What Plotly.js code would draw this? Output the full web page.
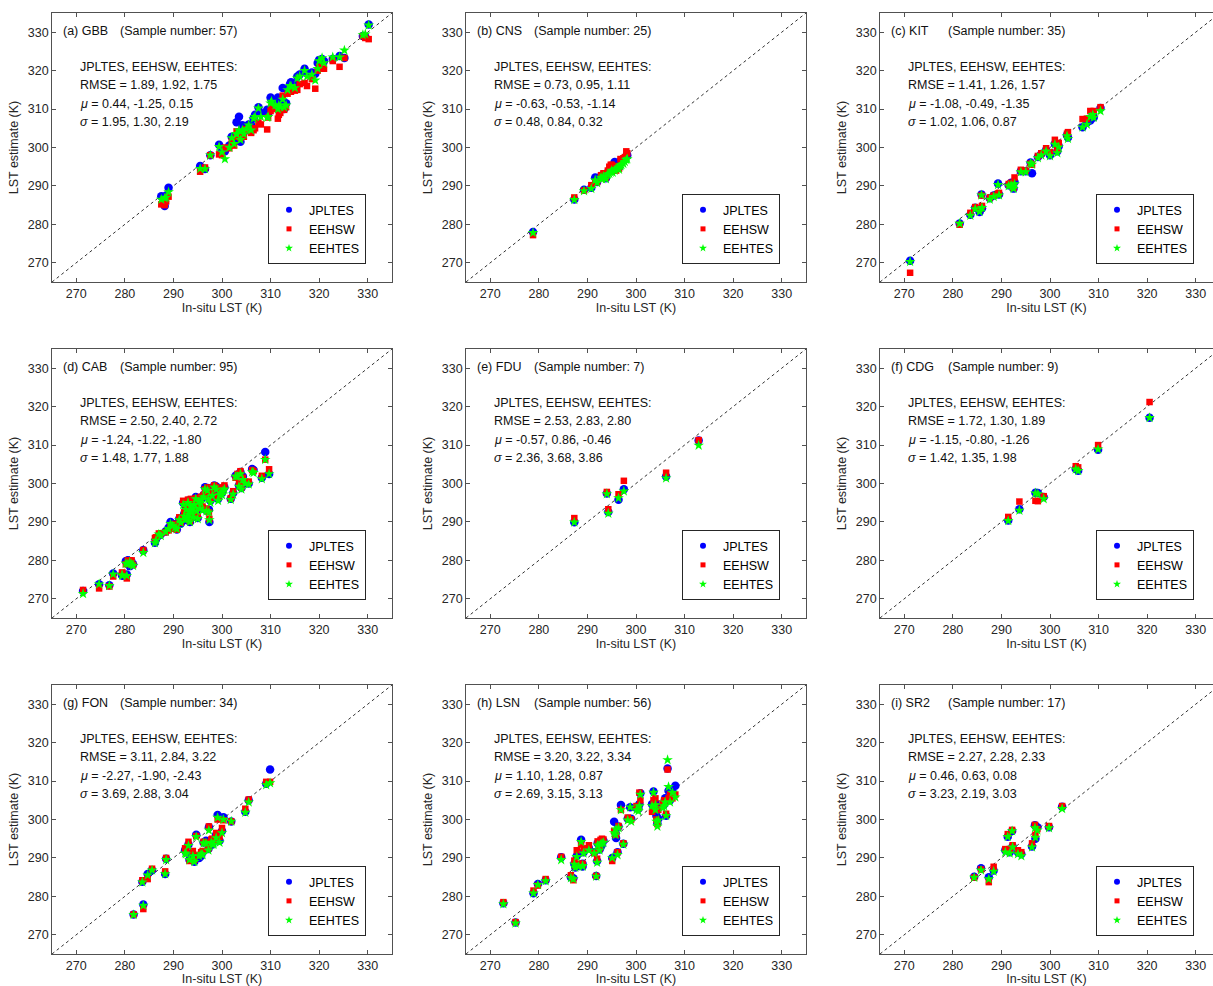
<!DOCTYPE html>
<html>
<head>
<meta charset="utf-8">
<script src="https://cdn.plot.ly/plotly-3.0.1.min.js"></script>
<style>html,body{margin:0;padding:0;background:#fff;}#chart{width:1213px;height:986px;}</style>
</head>
<body>
<div id="chart"></div>
<script>
// ---------------- DATA ----------------
const axisRange = [265, 335];
const tickValues = [270, 280, 290, 300, 310, 320, 330];
const seriesNames = ['JPLTES', 'EEHSW', 'EEHTES'];
const siteLabels = ['(a) GBB', '(b) CNS', '(c) KIT', '(d) CAB', '(e) FDU', '(f) CDG', '(g) FON', '(h) LSN', '(i) SR2'];
const sampleNumbers = [57, 25, 35, 95, 7, 9, 34, 56, 17];
const rmseValues = [[1.89,1.92,1.75],[0.73,0.95,1.11],[1.41,1.26,1.57],[2.50,2.40,2.72],[2.53,2.83,2.80],[1.72,1.30,1.89],[3.11,2.84,3.22],[3.20,3.22,3.34],[2.27,2.28,2.33]];
const muValues = [[0.44,-1.25,0.15],[-0.63,-0.53,-1.14],[-1.08,-0.49,-1.35],[-1.24,-1.22,-1.80],[-0.57,0.86,-0.46],[-1.15,-0.80,-1.26],[-2.27,-1.90,-2.43],[1.10,1.28,0.87],[0.46,0.63,0.08]];
const sigmaValues = [[1.95,1.30,2.19],[0.48,0.84,0.32],[1.02,1.06,0.87],[1.48,1.77,1.88],[2.36,3.68,3.86],[1.42,1.35,1.98],[3.69,2.88,3.04],[2.69,3.15,3.13],[3.23,2.19,3.03]];

// (a) GBB
const gbbInsitu = [287.5,288.2,289.0,288.5,295.5,296.5,297.6,299.4,300.0,300.6,302.0,302.5,303.0,303.5,303.8,304.2,304.5,305.0,306.0,306.5,306.8,307.5,309.3,309.5,310.0,310.2,311.5,311.7,312.0,312.5,312.8,313.2,313.5,314.2,315.0,315.5,316.0,317.0,317.5,319.2,319.7,320.0,320.6,322.8,324.2,325.2,329.5,330.2,311.0,308.0,301.5,303.0,305.5,314.0,318.5,321.0,329.0];
const gbbJPLTES = [287.3,284.8,289.5,287.5,295.2,294.4,298.0,300.7,299.0,299.0,302.8,301.5,306.6,308.0,301.5,305.8,304.0,305.2,305.8,307.6,308.5,310.5,309.8,308.7,313.0,312.5,313.0,312.0,311.0,315.5,310.0,311.5,315.0,317.0,316.5,318.5,319.0,320.5,319.3,319.2,322.0,322.8,323.0,323.0,323.8,323.3,328.8,332.0,311.8,309.0,300.5,303.0,306.0,316.5,319.5,322.5,329.0];
const gbbEEHSW = [285.2,285.0,287.2,286.0,293.7,294.8,298.0,298.2,298.0,300.0,301.5,300.5,304.2,303.0,302.5,303.5,302.8,304.8,303.8,304.5,305.0,306.5,304.7,307.8,309.5,310.5,307.5,308.5,309.0,313.5,309.8,310.5,314.0,314.5,314.8,315.0,316.5,316.8,316.0,315.3,320.0,321.0,320.5,322.5,321.0,323.3,328.5,328.2,310.0,306.0,299.8,302.8,304.5,314.5,317.8,320.5,329.0];
const gbbEEHTES = [286.5,286.8,288.4,287.0,294.5,294.4,298.0,300.2,298.8,297.0,302.5,301.0,303.5,304.5,302.0,304.5,303.5,304.8,304.5,307.5,308.0,310.2,307.8,308.0,311.5,312.0,310.0,311.0,310.5,312.5,310.5,311.0,315.0,316.0,315.5,318.0,318.5,320.0,318.5,317.5,320.5,322.5,323.3,323.5,323.5,325.3,329.5,331.8,311.0,308.0,300.0,303.5,305.8,316.0,319.0,322.0,329.3];

// (b) CNS
const cnsInsitu = [278.8,287.3,289.3,290.8,291.6,292.0,292.8,293.3,293.8,294.2,294.5,294.8,295.2,295.6,295.9,296.3,296.5,296.8,297.0,297.4,297.7,298.0,298.2,293.0,295.0];
const cnsJPLTES = [278.0,286.5,289.0,289.5,292.2,291.0,292.5,293.0,292.0,293.5,294.0,294.5,294.0,296.2,295.0,295.5,294.8,296.5,296.2,296.8,297.0,297.8,298.0,292.5,295.2];
const cnsEEHSW = [277.2,287.0,288.8,290.2,291.0,291.0,292.8,293.3,292.2,294.0,295.0,295.5,294.2,295.2,294.0,295.0,294.5,297.0,296.5,297.2,297.5,299.0,298.5,292.0,295.5];
const cnsEEHTES = [277.8,286.4,288.7,289.3,291.5,290.8,292.2,292.5,291.8,293.0,293.2,293.5,293.5,294.0,294.5,294.8,294.3,295.2,295.5,295.8,296.3,296.8,297.0,291.8,294.0];

// (c) KIT
const kitInsitu = [271.2,281.4,283.6,284.6,285.5,285.9,286.0,287.6,288.4,289.3,289.5,291.5,292.0,292.3,292.7,292.5,294.0,295.0,296.0,296.3,298.2,299.2,300.0,301.0,301.5,301.8,303.7,303.5,306.7,307.6,308.3,308.8,309.0,310.4,297.5];
const kitJPLTES = [270.5,280.2,282.5,284.3,283.2,287.8,284.2,286.8,287.5,290.6,287.8,290.2,290.8,290.3,291.0,289.3,293.8,293.8,296.1,293.3,298.3,299.3,298.0,301.0,299.0,300.3,302.6,303.2,305.3,306.5,307.0,308.5,307.8,310.3,297.5];
const kitEEHSW = [267.4,279.9,283.0,284.5,284.0,287.5,284.8,287.0,287.5,288.0,288.2,290.5,290.8,290.0,292.2,289.5,294.2,294.0,295.8,295.5,298.5,299.8,298.8,302.0,299.5,301.2,304.0,303.6,307.4,307.5,309.5,309.0,309.5,310.5,297.8];
const kitEEHTES = [270.3,280.2,282.3,284.0,283.3,287.6,284.3,286.5,287.2,290.3,287.6,290.0,290.2,289.8,290.5,289.3,293.6,293.6,295.9,295.6,298.0,299.0,297.8,300.8,298.6,300.1,302.3,303.0,305.3,306.0,308.0,308.5,307.8,309.5,297.3];

// (d) CAB
const cabInsitu = [271.4,274.7,276.8,277.6,279.4,280.2,280.4,280.6,281.4,281.7,283.8,286.2,286.4,287.4,288.4,289.0,289.4,289.8,290.3,290.7,291.2,291.5,292.0,292.2,292.4,292.6,292.8,293.0,293.2,293.4,293.6,293.8,294.0,294.3,294.6,294.8,295.0,295.2,295.5,295.8,296.2,296.5,296.8,297.0,297.2,297.4,297.3,297.6,298.0,298.4,298.8,299.2,299.5,299.8,300.2,300.5,301.8,302.3,302.8,303.2,303.5,303.8,304.0,304.3,304.8,305.5,306.2,306.5,308.2,308.9,309.7,279.5,281.0,287.0,293.4,294.0,295.6,296.0,300.0];
const cabJPLTES = [272.0,273.8,273.5,276.6,276.2,279.8,276.3,280.0,279.5,279.0,282.6,284.6,285.5,286.8,287.5,288.5,290.0,289.5,288.8,288.0,290.8,289.5,295.0,292.0,290.5,293.5,291.0,295.5,292.5,290.0,294.5,293.0,291.5,295.0,296.5,293.0,291.0,295.5,294.0,296.0,297.0,299.0,293.0,298.8,296.5,290.0,293.2,295.5,297.0,299.5,299.2,296.0,297.5,298.0,298.5,299.0,296.0,297.5,302.0,302.3,299.5,303.0,298.8,301.8,300.2,300.0,303.8,303.5,301.5,308.2,302.5,276.0,278.5,286.5,292.8,294.0,295.8,293.5,297.5];
const cabEEHSW = [272.3,272.7,273.2,275.8,276.8,279.0,275.3,280.0,280.0,278.8,282.7,285.8,286.0,287.0,287.3,287.8,289.0,288.2,289.5,288.0,291.2,289.8,295.5,292.5,290.8,294.0,291.5,295.8,292.8,290.2,296.0,293.5,292.0,295.0,296.2,293.5,291.5,296.0,294.2,296.5,297.0,298.5,293.5,299.0,297.0,290.8,292.5,296.0,297.5,299.5,299.0,296.5,297.8,298.5,299.0,299.5,296.2,298.0,301.5,302.5,300.0,303.2,299.0,301.5,300.5,300.5,303.5,303.2,302.0,306.2,303.7,276.8,280.0,287.0,294.8,293.0,296.5,294.0,298.0];
const cabEEHTES = [271.3,273.8,273.4,276.4,276.2,279.2,276.0,279.0,279.0,278.6,282.0,284.5,285.2,286.4,287.5,288.2,289.5,289.0,288.5,288.2,290.5,289.8,294.5,291.5,290.5,293.2,291.0,295.0,292.0,290.0,294.0,292.5,291.2,294.5,296.0,292.8,290.8,295.2,293.5,295.8,296.5,298.5,292.8,298.2,296.0,290.5,292.5,295.0,296.8,299.0,298.5,295.5,297.0,297.5,298.0,298.5,295.8,297.2,301.8,301.8,299.2,302.5,298.5,301.0,300.0,299.8,303.0,302.8,301.2,306.2,302.5,276.0,279.5,286.8,293.0,293.5,295.0,293.0,297.0];

// (e) FDU
const fduInsitu = [287.3,294.0,294.3,296.4,297.5,306.2,312.9];
const fduJPLTES = [289.9,297.4,292.6,295.8,298.5,301.8,311.2];
const fduEEHSW = [291.0,297.8,293.3,297.2,300.7,302.8,311.3];
const fduEEHTES = [289.9,297.3,292.2,296.2,298.0,301.4,309.9];

// (f) CDG
const cdgInsitu = [291.4,293.7,297.0,297.5,298.7,305.3,305.8,309.9,320.5];
const cdgJPLTES = [290.4,293.3,297.6,297.5,296.5,303.8,303.3,308.8,317.1];
const cdgEEHSW = [291.3,295.3,295.5,295.4,296.7,304.5,304.2,310.0,321.2];
const cdgEEHTES = [290.3,293.0,297.5,297.3,296.0,303.7,303.3,308.9,317.1];

// (g) FON
const fonInsitu = [281.8,283.8,283.6,284.7,285.6,288.3,288.5,292.4,293.1,293.3,294.0,294.3,294.7,295.3,295.7,296.2,296.7,297.2,297.3,297.8,298.3,298.8,299.1,300.0,300.3,301.9,304.8,305.5,309.1,309.9,292.6,296.0,298.0,299.5];
const fonJPLTES = [275.3,277.9,283.8,285.8,286.8,285.8,289.8,292.0,293.5,289.5,290.5,289.0,296.0,290.0,290.5,294.0,294.5,292.3,298.0,294.5,294.8,296.0,301.2,297.0,300.6,299.5,302.0,305.0,309.3,313.0,291.5,291.5,293.5,294.5];
const fonEEHSW = [275.3,276.7,284.2,284.5,287.2,286.5,290.0,292.5,294.2,289.2,291.8,289.5,295.7,290.8,291.5,294.2,294.0,292.5,298.2,294.8,294.5,296.5,300.0,297.8,299.8,299.5,302.8,305.2,309.8,309.8,292.0,291.8,295.0,295.5];
const fonEEHTES = [275.2,277.6,283.7,285.5,286.8,285.8,289.5,291.2,293.2,289.5,290.5,289.0,295.5,290.5,291.0,293.8,293.8,292.0,297.2,294.0,293.5,295.2,300.5,296.5,300.0,299.5,301.8,304.5,309.0,309.5,291.0,290.8,293.5,294.0];

// (h) LSN
const lsnInsitu = [272.7,275.2,278.9,279.8,281.4,284.6,286.6,287.1,287.3,287.8,288.2,288.7,289.0,289.2,290.3,291.4,291.8,292.0,292.1,292.7,293.0,293.3,295.1,295.5,295.9,296.2,296.4,296.9,297.4,298.3,298.8,300.1,300.7,300.9,303.3,303.6,304.0,304.2,304.4,304.6,305.5,306.0,306.2,306.5,306.7,307.0,308.1,307.5,300.5,304.0,305.8,289.0,295.8,299.0,292.5,287.5];
const lsnJPLTES = [278.2,273.2,280.8,283.2,284.2,290.2,285.0,284.7,288.5,290.5,288.0,294.7,287.8,291.5,292.5,291.5,285.3,289.2,293.8,292.8,293.5,294.5,290.0,299.4,295.2,291.5,298.2,303.8,293.7,300.2,303.2,303.0,304.0,306.8,304.0,307.3,303.0,301.0,299.0,300.2,303.5,305.5,301.0,313.3,307.5,305.0,308.8,307.2,302.8,304.2,304.0,288.5,296.5,300.2,292.2,287.5];
const lsnEEHSW = [278.5,273.3,281.5,282.8,284.5,290.3,285.5,284.2,289.3,292.0,288.5,293.5,288.5,292.5,293.3,291.3,285.3,289.8,294.3,294.7,295.0,294.8,289.2,297.0,296.0,291.5,298.3,302.5,293.8,300.5,300.0,303.5,307.0,305.0,302.0,305.0,303.5,300.0,298.8,302.5,304.0,305.0,301.5,313.0,305.5,306.5,306.5,305.5,303.0,305.5,305.0,288.2,296.0,300.0,292.5,288.0];
const lsnEEHTES = [278.0,273.0,280.8,283.0,284.0,289.5,284.8,284.5,288.3,290.3,287.8,294.2,287.8,291.2,292.0,291.2,285.2,288.8,293.3,293.5,293.8,294.0,290.0,296.5,297.5,290.8,297.8,302.5,293.5,299.8,303.2,302.5,303.5,306.5,303.5,307.0,302.5,299.5,298.2,299.8,303.0,304.5,301.0,315.5,308.5,304.5,305.8,307.0,302.2,303.8,303.5,288.0,296.0,299.5,292.0,287.5];

// (i) SR2
const sr2Insitu = [284.4,285.8,287.4,288.4,290.8,291.3,291.7,292.2,292.3,293.4,294.1,296.3,296.9,297.0,297.4,299.8,302.5];
const sr2JPLTES = [285.1,287.3,285.0,286.7,292.0,295.5,291.5,297.0,293.0,291.5,291.0,293.0,298.5,295.0,298.0,298.0,303.3];
const sr2EEHSW = [284.9,287.0,283.7,287.7,292.3,296.2,292.3,297.3,293.3,292.0,291.5,293.8,298.6,296.0,297.5,298.3,303.5];
const sr2EEHTES = [284.9,286.8,284.5,286.5,291.5,295.5,291.2,297.0,292.8,291.0,290.5,292.8,297.8,295.3,297.2,297.8,302.8];

const panelData = [
  [gbbInsitu, gbbJPLTES, gbbEEHSW, gbbEEHTES],
  [cnsInsitu, cnsJPLTES, cnsEEHSW, cnsEEHTES],
  [kitInsitu, kitJPLTES, kitEEHSW, kitEEHTES],
  [cabInsitu, cabJPLTES, cabEEHSW, cabEEHTES],
  [fduInsitu, fduJPLTES, fduEEHSW, fduEEHTES],
  [cdgInsitu, cdgJPLTES, cdgEEHSW, cdgEEHTES],
  [fonInsitu, fonJPLTES, fonEEHSW, fonEEHTES],
  [lsnInsitu, lsnJPLTES, lsnEEHSW, lsnEEHTES],
  [sr2Insitu, sr2JPLTES, sr2EEHSW, sr2EEHTES]
];

// ---------------- STYLE / LAYOUT ----------------
const W = 1213, H = 986;
const FONT = 'Arial, "Liberation Sans", Helvetica, sans-serif';
const TXT = '#262626';
const colLeft = [52, 466, 880];
const colWidth = 340;
const rowTop = [13, 349, 685];
const rowHeight = 269;
const pxPerK = colWidth / (axisRange[1] - axisRange[0]);

const markerStyles = [
  {symbol: 'circle', color: '#0000FF', size: 8.5, legendSize: 6},
  {symbol: 'square', color: '#FF0000', size: 6.5, legendSize: 5},
  {symbol: 'star', color: '#00FF00', size: 8, legendSize: 6}
];

const traces = [];
const layout = {
  width: W, height: H,
  margin: {l: 0, r: 0, t: 0, b: 0},
  paper_bgcolor: '#fff', plot_bgcolor: '#fff',
  font: {family: FONT, size: 12.5, color: TXT},
  showlegend: true,
  annotations: []
};

const fmt = v => v.toFixed(2);

for (let i = 0; i < 9; i++) {
  const r = Math.floor(i / 3), c = i % 3;
  const sfx = i === 0 ? '' : String(i + 1);
  const xa = 'x' + sfx, ya = 'y' + sfx;
  const legendId = 'legend' + sfx;
  const left = colLeft[c];
  const right = Math.min(left + colWidth, W);
  const clipped = left + colWidth > W;
  const xMax = axisRange[0] + (right - left) / pxPerK;
  const top = rowTop[r], bottom = rowTop[r] + rowHeight;

  const axCommon = {
    showline: true, linecolor: TXT, linewidth: 0.8, mirror: 'ticks',
    ticks: 'inside', ticklen: 4, tickwidth: 0.8, tickcolor: TXT,
    showgrid: false, zeroline: false, tickvals: tickValues,
    tickfont: {family: FONT, size: 12.5, color: TXT}
  };
  layout['xaxis' + sfx] = Object.assign({}, axCommon, {
    domain: [left / W, right / W], range: [axisRange[0], xMax], anchor: ya,
    title: {text: 'In-situ LST (K)', font: {family: FONT, size: 12.5, color: TXT}, standoff: 2}
  });
  layout['yaxis' + sfx] = Object.assign({}, axCommon, {
    domain: [(H - bottom) / H, (H - top) / H], range: axisRange.slice(), anchor: xa,
    mirror: clipped ? false : 'ticks',
    title: {text: 'LST estimate (K)', font: {family: FONT, size: 12.5, color: TXT}, standoff: 6}
  });

  // 1:1 line
  traces.push({
    x: axisRange, y: axisRange, xaxis: xa, yaxis: ya, mode: 'lines',
    line: {color: '#333333', width: 1, dash: '3px,3px'},
    showlegend: false, hoverinfo: 'skip'
  });

  const d = panelData[i];
  for (let s = 0; s < 3; s++) {
    const m = markerStyles[s];
    traces.push({
      x: d[0], y: d[s + 1], xaxis: xa, yaxis: ya, mode: 'markers', type: 'scatter',
      name: seriesNames[s], showlegend: false,
      marker: {symbol: m.symbol, color: m.color, size: m.size, line: {width: 0}}
    });
  }
  // legend entries (legend-only keys with smaller symbols, as in the reference)
  for (let s = 0; s < 3; s++) {
    const m = markerStyles[s];
    traces.push({
      x: [null], y: [null], xaxis: xa, yaxis: ya, mode: 'markers', type: 'scatter',
      name: seriesNames[s], legend: legendId, showlegend: true,
      marker: {symbol: m.symbol, color: m.color, size: m.legendSize, line: {width: 0}}
    });
  }

  layout[legendId] = {
    x: (left + 216) / W, y: (H - (top + 181)) / H, xanchor: 'left', yanchor: 'top',
    bgcolor: '#ffffff', bordercolor: TXT, borderwidth: 1,
    font: {family: FONT, size: 12.5, color: '#000'},
    tracegroupgap: 0, itemclick: false
  };

  const tf = {family: FONT, size: 12.5, color: '#111'};
  const ann = (x, y, text) => layout.annotations.push({
    xref: xa, yref: ya, x: x, y: y, text: text, showarrow: false,
    xanchor: 'left', yanchor: 'middle', font: tf
  });
  ann(266.9, 330.3, siteLabels[i]);
  ann(278.6, 330.3, '(Sample number: ' + sampleNumbers[i] + ')');
  ann(270.4, 321.0, seriesNames.join(', ') + ':');
  ann(270.4, 316.2, 'RMSE = ' + rmseValues[i].map(fmt).join(', '));
  ann(270.4, 311.4, '<i>μ</i> = ' + muValues[i].map(fmt).join(', '));
  ann(270.4, 306.6, '<i>σ</i> = ' + sigmaValues[i].map(fmt).join(', '));
}

Plotly.newPlot('chart', traces, layout, {staticPlot: true, displayModeBar: false});
</script>
</body>
</html>
